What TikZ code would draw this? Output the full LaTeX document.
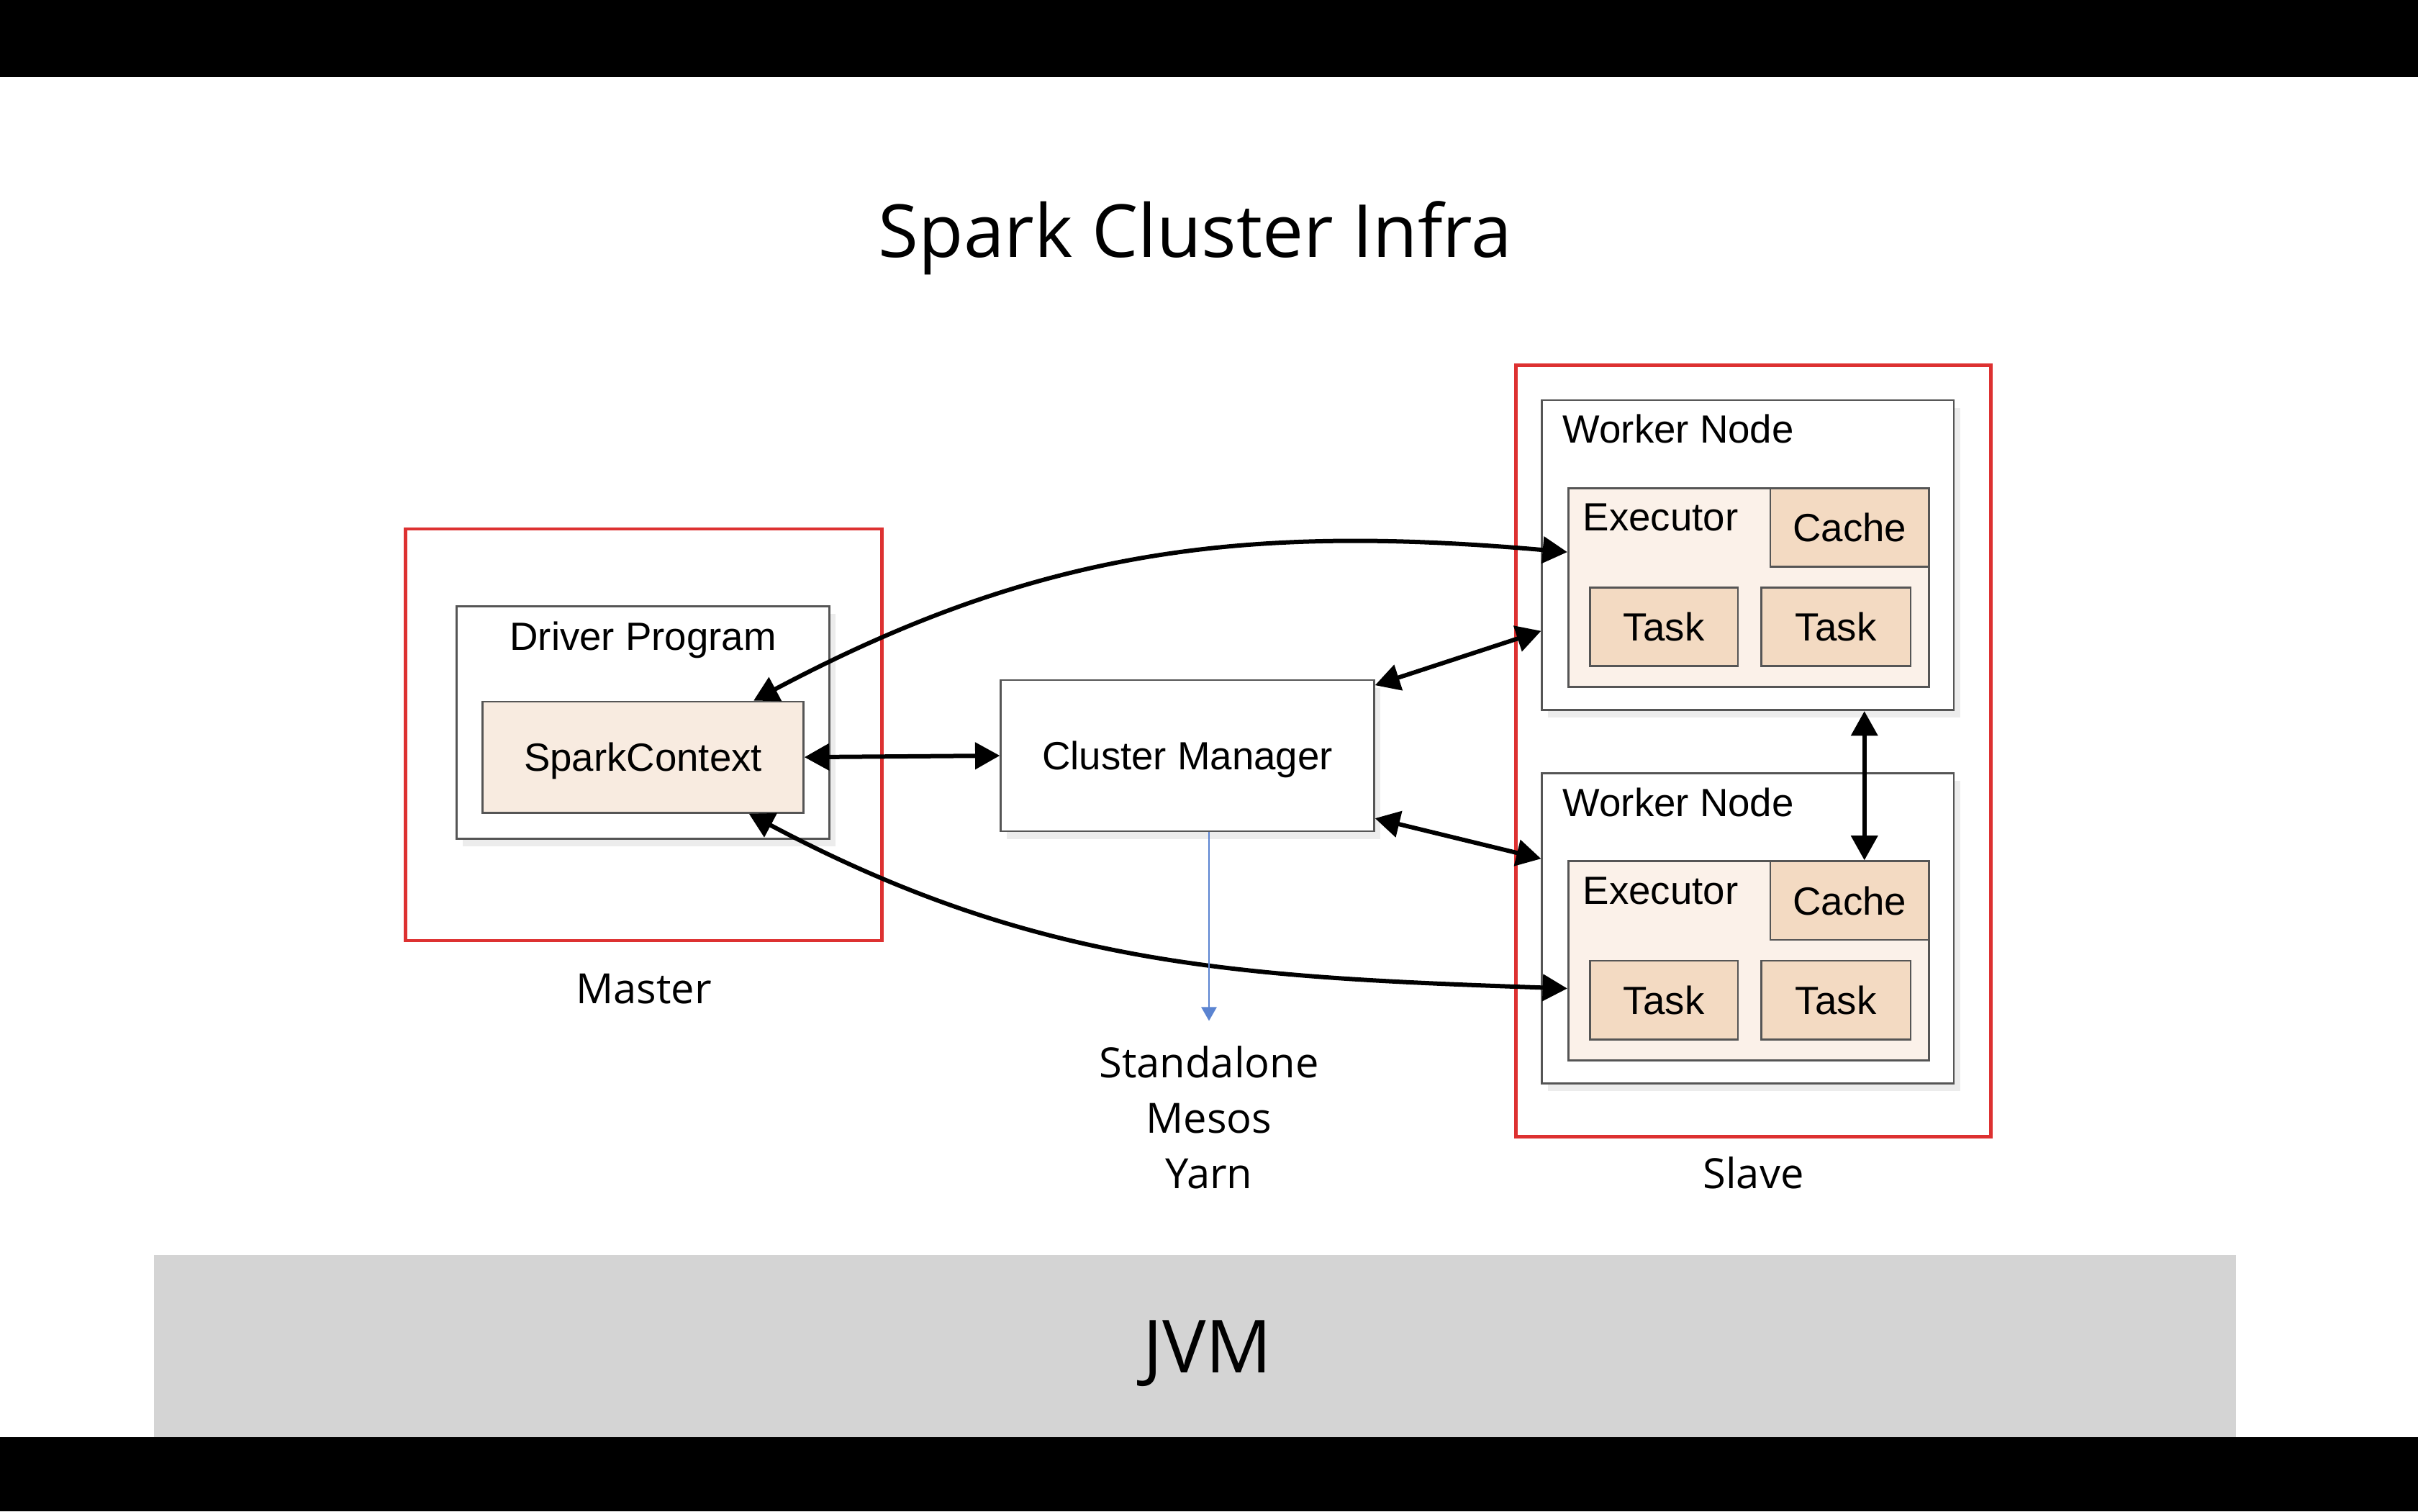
\documentclass[tikz,border=0pt]{standalone}
\usepackage{fontspec}
\setmainfont{Open Sans}
\newfontfamily\diagfont{Liberation Sans}
\usetikzlibrary{arrows.meta,positioning,calc,shadows}
\definecolor{slidered}{HTML}{DD3131}
\definecolor{boxgray}{HTML}{555555}
\definecolor{ctxfill}{HTML}{F8EBE0}
\definecolor{execfill}{HTML}{FBF1E9}
\definecolor{taskfill}{HTML}{F3DAC2}
\definecolor{bandgray}{HTML}{D4D4D4}
\definecolor{cmblue}{HTML}{5B84D1}

\begin{document}
\begin{tikzpicture}[
    x=1pt, y=1pt,
    dtext/.style={font=\diagfont\fontsize{25.5}{30}\selectfont, text height=18.3pt, text depth=0pt},
    box/.style={draw=boxgray, line width=1.3pt, fill=white, inner sep=0pt,
        drop shadow={opacity=0.15, shadow xshift=4pt, shadow yshift=-5pt}},
    ctx/.style={draw=boxgray, line width=1.3pt, fill=ctxfill, inner sep=0pt, dtext},
    exec/.style={draw=boxgray, line width=1.3pt, fill=execfill, inner sep=0pt},
    task/.style={draw=boxgray, line width=1.3pt, fill=taskfill, inner sep=0pt, dtext},
    lbl/.style={inner sep=0pt, dtext},
    redbox/.style={draw=slidered, line width=2.2pt, inner sep=0pt},
    slidelbl/.style={inner sep=0pt, font=\fontsize{27}{36}\selectfont, text height=19.3pt, text depth=0pt},
    bigtext/.style={inner sep=0pt, font=\fontsize{47.5}{57}\selectfont, text height=34pt, text depth=0pt},
    arr/.style={{Triangle[length=16pt,width=17pt]}-{Triangle[length=16pt,width=17pt]}, line width=2.8pt},
    bluearr/.style={-{Triangle[length=9pt,width=10pt]}, line width=1pt, cmblue}
]
\useasboundingbox (0,0) rectangle (1568,980);
\fill[black] (0,930) rectangle (1568,980);
\fill[black] (0,0) rectangle (1568,48);
\node[fill=bandgray, minimum width=1350pt, minimum height=118pt, inner sep=0pt] (jvm) at (775,107) {};
\node[bigtext] (jvmlbl) at ([xshift=8pt]jvm.center) {JVM};
\node[bigtext] (title) at (775,830) {Spark Cluster Infra};

\node[redbox, minimum width=309pt, minimum height=267pt] (master) at (417.5,503.5) {};
\node[box, minimum width=242pt, minimum height=151pt] (driver) at (417,511.5) {};
\node[lbl, below=11pt of driver.north] (drvlbl) {Driver Program};
\node[ctx, minimum width=208pt, minimum height=72pt] (sc) at (417,489) {SparkContext};
\node[slidelbl, below=20pt of master] (mlbl) {Master};

\node[box, dtext, minimum width=242pt, minimum height=98pt] (cm) at (770,490) {Cluster Manager};
\node[inner sep=0pt, font=\fontsize{27}{36}\selectfont, align=center, anchor=north] (rm) at (784,302) {Standalone\\Mesos\\Yarn};

\node[redbox, minimum width=308pt, minimum height=500pt] (slave) at (1137,493) {};
\node[slidelbl, below=13pt of slave] (slbl) {Slave};

\foreach \i/\y in {1/620, 2/378} {
  \node[box, minimum width=267pt, minimum height=201pt] (w\i) at (1133.5,\y) {};
  \node[lbl, below right=10pt and 14pt of w\i.north west] (wl\i) {Worker Node};
  \node[exec, minimum width=234pt, minimum height=129pt] (e\i) at (1134,\y-21) {};
  \node[lbl, below right=10pt and 10pt of e\i.north west] (el\i) {Executor};
  \node[task, minimum width=103pt, minimum height=51pt, anchor=north east] (c\i) at (e\i.north east) {Cache};
  \node[task, minimum width=96pt, minimum height=51pt] (ta\i) at (1079,\y-46.5) {Task};
  \node[task, minimum width=97pt, minimum height=51pt] (tb\i) at (1190.5,\y-46.5) {Task};
}

\draw[arr] (sc.east) -- (cm.west);
\draw[arr] ([yshift=-4pt]cm.north east) -- ([yshift=52pt]w1.south west);
\draw[arr] ([yshift=9pt]cm.south east) -- ([yshift=-56pt]w2.north west);
\draw[arr] ([xshift=-33pt]sc.north east) to[out=28,in=175] ([yshift=23pt]e1.west);
\draw[arr] ([xshift=-36pt]sc.south east) to[out=-28,in=178] ([yshift=-18pt]e2.west);
\draw[arr] ([xshift=75.5pt]w1.south) coordinate (vtop) -- (vtop |- c2.north);
\draw[bluearr] (cm.south -| rm.north) -- ([yshift=16pt]rm.north);
\end{tikzpicture}
\end{document}
